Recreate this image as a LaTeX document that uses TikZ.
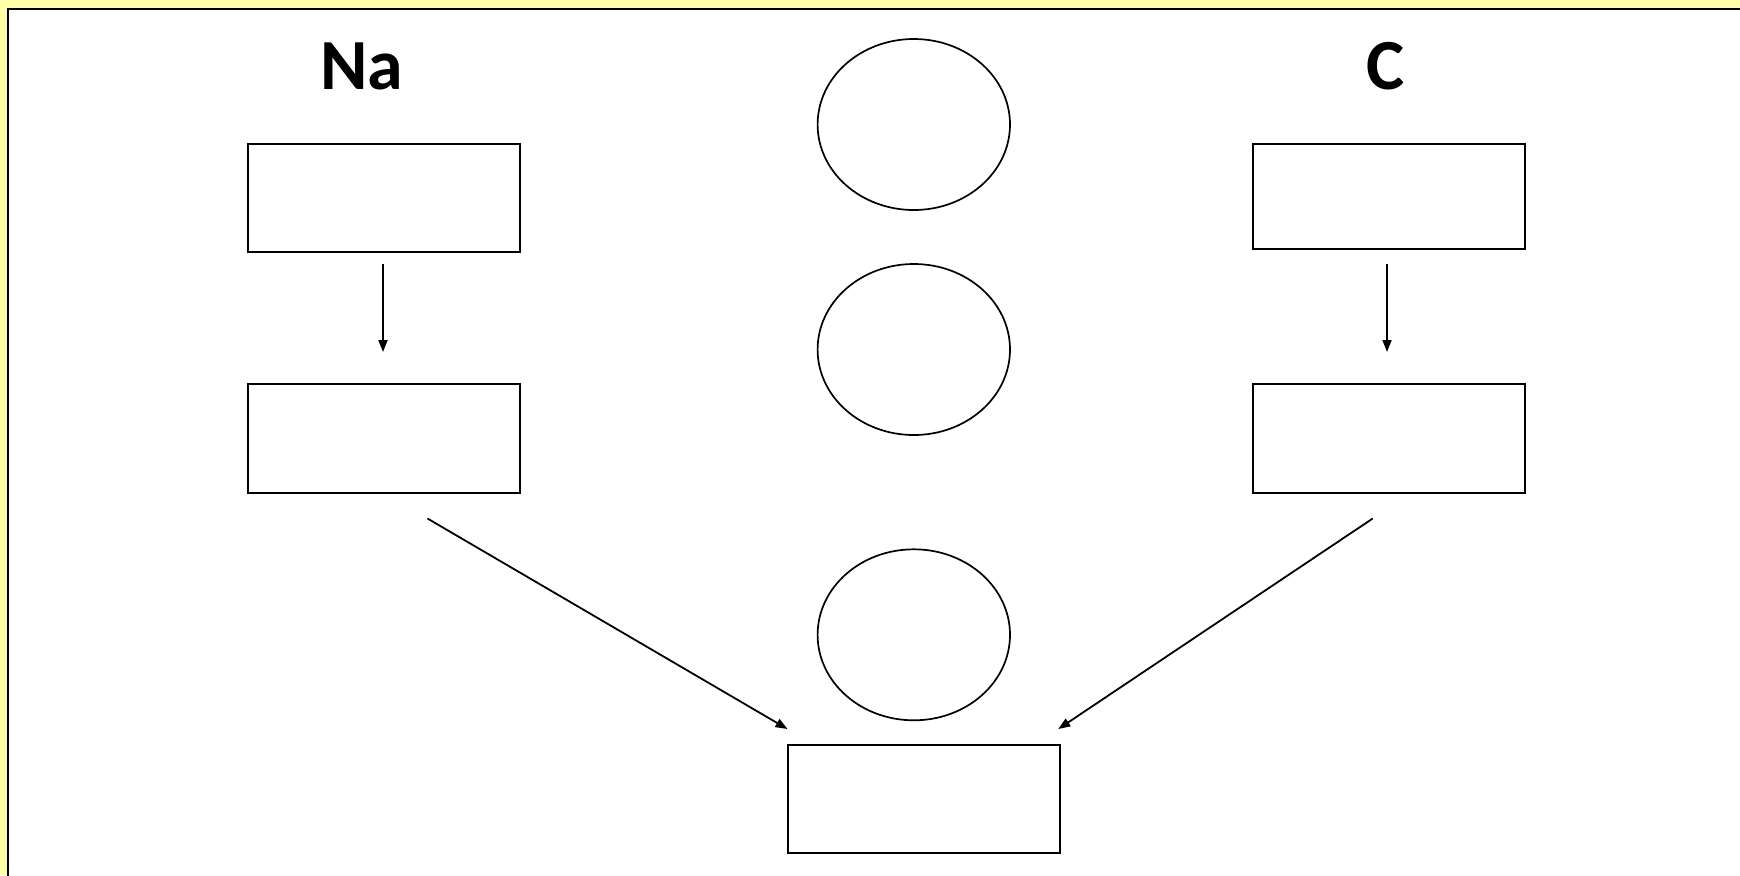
\documentclass[tikz,border=0pt]{standalone}
\usepackage{fontspec}
\setmainfont{Carlito}
\usetikzlibrary{arrows.meta,shapes.geometric}
\definecolor{bgyellow}{RGB}{255,255,170}
\tikzset{
  box/.style={draw=black, line width=1pt, rectangle, minimum width=136pt, inner sep=0pt, outer sep=0pt},
  oval/.style={draw=black, line width=0.85pt, ellipse, minimum width=96.2pt, minimum height=85.5pt, inner sep=0pt, outer sep=0pt},
  label/.style={font=\bfseries\fontsize{36}{40}\selectfont, anchor=base, inner sep=0pt},
  arr/.style={draw=black, line width=0.9pt, -{Triangle[length=6pt,width=4.5pt]}}
}
\begin{document}
\begin{tikzpicture}[x=0.5pt, y=-0.5pt]
\useasboundingbox (0,0) rectangle (1740,875);
\fill[bgyellow] (0,0) rectangle (1740,875);
\fill[white] (8,9) rectangle (1745,880);
\draw[line width=1pt] (8,880) -- (8,9) -- (1745,9);
% labels
\node[label] (na) at (361.7,89.3) {Na};
\node[label] (c) at (1385.8,89.8) {C};
% boxes
\node[box, minimum height=54pt] (l1) at (383.5,198) {};
\node[box, minimum height=54.3pt] (l2) at (383.5,438.4) {};
\node[box, minimum height=52.2pt] (r1) at (1388.7,196.5) {};
\node[box, minimum height=54.3pt] (r2) at (1388.7,438.4) {};
\node[box, minimum height=54.4pt] (b) at (923.8,799) {};
% ellipses
\node[oval] (e1) at (913.8,124.5) {};
\node[oval] (e2) at (913.8,349.5) {};
\node[oval] (e3) at (913.8,634.8) {};
% arrow end points
\coordinate (l1s) at (383,264);
\coordinate (l1e) at (383,352);
\coordinate (r1s) at (1387,264);
\coordinate (r1e) at (1387,352);
\coordinate (l2s) at (427.5,518.5);
\coordinate (bl) at (787.5,729);
\coordinate (r2s) at (1372.7,518.5);
\coordinate (br) at (1058.3,729);
\draw[arr] (l1s) -- (l1e);
\draw[arr] (r1s) -- (r1e);
\draw[arr] (l2s) -- (bl);
\draw[arr] (r2s) -- (br);
\end{tikzpicture}
\end{document}
